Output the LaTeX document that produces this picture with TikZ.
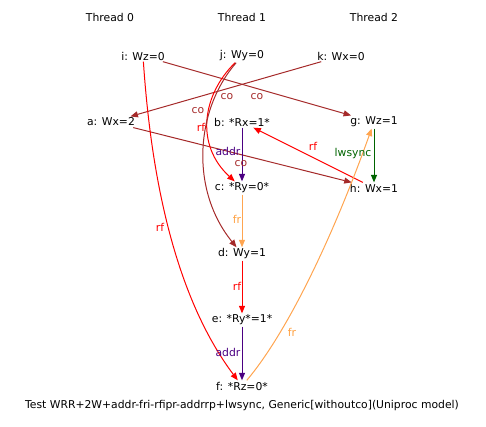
\documentclass[tikz,border=0pt]{standalone}
\usepackage{fontspec}
\setmainfont{DejaVu Sans}
\usetikzlibrary{arrows.meta}
\definecolor{cobrown}{RGB}{165,42,42}
\definecolor{rfred}{RGB}{255,0,0}
\definecolor{addrc}{RGB}{75,0,130}
\definecolor{frc}{RGB}{255,165,80}
\definecolor{frlab}{RGB}{255,160,64}
\definecolor{lwc}{RGB}{0,100,0}
\begin{document}
\begin{tikzpicture}[x=1pt,y=-1pt,
  every node/.style={font=\fontsize{10.8}{13}\selectfont},
  ev/.style={inner sep=1.5pt,outer sep=0pt},
  lab/.style={inner sep=0.5pt},
  edge/.style={line width=1pt,-{Triangle[length=7.5pt,width=6pt]}},
  coE/.style={edge,draw=cobrown},
  rfE/.style={edge,draw=rfred},
  addrE/.style={edge,draw=addrc},
  frE/.style={edge,draw=frc},
  lwE/.style={edge,draw=lwc}]
\useasboundingbox (0,0) rectangle (486,427);
\node (t0) at (110,17) {Thread 0};
\node (t1) at (242,17) {Thread 1};
\node (t2) at (374,17) {Thread 2};
\node[ev] (i) at (143,56) {i: Wz=0};
\node[ev] (j) at (242,56) {j: Wy=0};
\node[ev] (k) at (341,56) {k: Wx=0};
\node[ev] (a) at (111,122) {a: Wx=2};
\node[ev] (b) at (242,122) {b: *Rx=1*};
\node[ev] (g) at (374,122) {g: Wz=1};
\node[ev] (c) at (242,188) {c: *Ry=0*};
\node[ev] (h) at (374,188) {h: Wx=1};
\node[ev] (d) at (242,254) {d: Wy=1};
\node[ev] (e) at (242,320) {e: *Ry*=1*};
\node[ev] (f) at (242,386) {f: *Rz=0*};
\node (cap) at (242,406) {Test WRR+2W+addr-fri-rfipr-addrrp+lwsync, Generic[withoutco](Uniproc model)};
% edges
\draw[coE] (i) -- (g);
\draw[coE] (k) -- (a);
\draw[coE] (a) -- (h);
\draw[rfE] (h) -- (b);
\draw[lwE] (g) -- (h);
\draw[addrE] (b) -- (c);
\draw[frE] (c) -- (d);
\draw[rfE] (d) -- (e);
\draw[addrE] (e) -- (f);
\draw[rfE] (i) .. controls (150,160) and (170,290) .. (f);
\draw[rfE] (j) .. controls (202,95) and (195,145) .. (c);
\draw[coE] (j) .. controls (195,110) and (190,190) .. (d);
\draw[frE] (f) .. controls (285,335) and (330,245) .. (g);
% labels
\node[lab,text=cobrown] (l1) at (227,97) {co};
\node[lab,text=cobrown] (l2) at (257,97) {co};
\node[lab,text=cobrown] (l3) at (198,111) {co};
\node[lab,text=rfred] (l4) at (201,127) {rf};
\node[lab,text=cobrown] (l5) at (241,164) {co};
\node[lab,text=addrc] (l6) at (228,151) {addr};
\node[lab,text=frlab] (l7) at (237,219) {fr};
\node[lab,text=rfred] (l8) at (237,286) {rf};
\node[lab,text=addrc] (l9) at (228,352) {addr};
\node[lab,text=frlab] (l10) at (292,332) {fr};
\node[lab,text=rfred] (l11) at (160,227) {rf};
\node[lab,text=rfred] (l12) at (313,146) {rf};
\node[lab,text=lwc] (l13) at (353,154) {lwsync};
\end{tikzpicture}
\end{document}
